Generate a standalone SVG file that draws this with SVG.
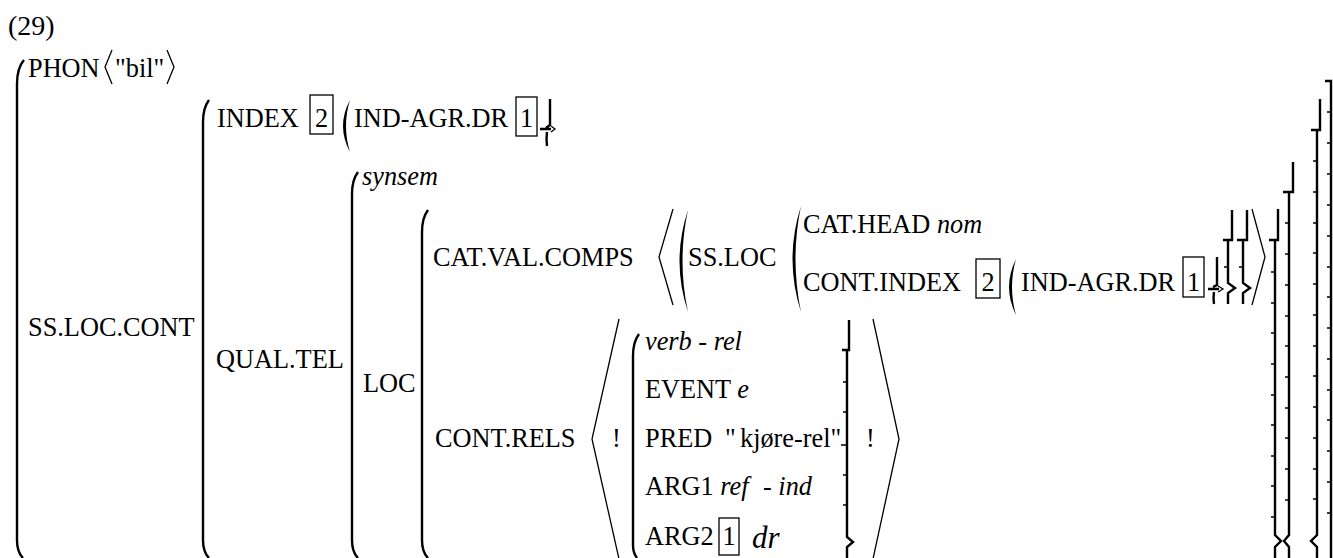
<svg xmlns="http://www.w3.org/2000/svg" width="1333" height="558" viewBox="0 0 1333 558">
<style>
text{font-family:"Liberation Serif","Times New Roman",serif;font-size:26.3px;fill:#000}
.i{font-style:italic}
.p{fill:none;stroke:#000;stroke-width:2.4}
.a{fill:none;stroke:#000;stroke-width:1.3}
.bx{fill:none;stroke:#000;stroke-width:1.3}
.f{fill:#000;stroke:none}
.t{fill:none;stroke:#000;stroke-width:1.4}
</style>
<rect width="1333" height="558" fill="#fff"/>
<text x="8" y="35" style="font-size:28px">(29)</text>
<g id="parens">
<path class="p" d="M24 60 Q17 68 17 84 V540 Q17 552 23 558"/>
<path class="p" d="M209 100 Q203 108 203 122 V540 Q203 552 209 558"/>
<path class="p" d="M358 172 Q352 180 352 194 V540 Q352 552 358 558"/>
<path class="p" d="M428 210 Q422 218 422 232 V540 Q422 552 428 558"/>
<path class="p" d="M639 334 Q633 342 633 356 V545 Q633 553 637 558"/>
<path class="f" d="M350 100 Q336 126 350 152 Q342 126 350 100Z"/>
<path class="f" d="M688 210 Q671 261 688 312 Q677 261 688 210Z"/>
<path class="f" d="M801 206 Q784 259 801 312 Q790 259 801 206Z"/>
<path class="f" d="M1016 259 Q1002 287 1016 315 Q1008 287 1016 259Z"/>
</g>
<g id="angles">
<path class="a" d="M112 50 L105 67 L112 84"/>
<path class="a" d="M167 50 L174 67 L167 84"/>
<path class="a" d="M673 209 L659 257 L673 305"/>
<path class="a" d="M1252 209 L1265 257 L1252 305"/>
<path class="a" d="M619 319 L592 439 L619 559"/>
<path class="a" d="M873 319 L899 439 L873 559"/>
</g>
<g id="closers">
<path class="p" d="M1325 81 H1331 V558"/>
<path class="t" d="M1327 112H1331M1327 143H1331M1327 174H1331M1327 205H1331M1327 236H1331M1327 267H1331M1327 297H1331M1327 328H1331M1327 359H1331M1327 390H1331M1327 420H1331M1327 451H1331M1327 482H1331M1327 513H1331"/>
<path class="p" d="M1320 99 V130 H1311 M1317 130 V535 L1311 541 L1317 547 V558"/>
<path class="t" d="M1313 161H1317M1313 192H1317M1313 223H1317M1313 253H1317M1313 284H1317M1313 315H1317M1313 346H1317M1313 376H1317M1313 407H1317M1313 438H1317M1313 469H1317M1313 499H1317"/>
<path class="p" d="M1293 162 V192 H1283 M1289 192 V535 L1284 541 L1289 547 V558"/>
<path class="t" d="M1285 223H1289M1285 254H1289M1285 285H1289M1285 316H1289M1285 346H1289M1285 377H1289M1285 408H1289M1285 438H1289M1285 469H1289M1285 500H1289"/>
<path class="p" d="M1278 209 V240 H1269 M1275 240 V535 L1281 541 L1275 547 V558"/>
<path class="t" d="M1271 272H1275M1271 303H1275M1271 333H1275M1271 364H1275M1271 395H1275M1271 425H1275M1271 456H1275M1271 486H1275M1271 517H1275"/>
<path class="p" d="M1232 210 V240 H1223 M1228 240 V283 L1235 288 L1228 293 V304"/>
<path class="p" d="M1247 210 V240 H1237 M1243 240 V283 L1250 288 L1243 293 V304"/>
<path class="t" d="M1224 267H1228M1239 267H1243"/>
<path class="p" d="M1217 257 V285 L1213 287 M1208 289 H1219 M1214 292 Q1213 298 1214 304"/>
<path class="a" d="M1218 286 L1223 289 L1218 292"/>
<path class="p" d="M550 99 V125 L546 128 M540 129 H551 M547 132 Q546 139 547 146"/>
<path class="a" d="M551 126 L555 129 L551 132"/>
<path class="p" d="M849 320 V350 H842 M847 350 V537 L853 542 L847 547 V558"/>
<path class="t" d="M843 382H847M843 412H847M841 445H847M843 475H847M843 505H847"/>
</g>
<g id="boxes">
<rect class="bx" x="310" y="95" width="23" height="39"/>
<rect class="bx" x="516" y="97" width="21" height="39"/>
<rect class="bx" x="976" y="259" width="24" height="39"/>
<rect class="bx" x="1183" y="257" width="21" height="40"/>
<rect class="bx" x="719" y="518" width="20" height="37"/>
</g>
<g id="labels">
<text x="28" y="77">PHON</text>
<text x="115" y="77">"bil"</text>
<text x="28" y="336">SS.LOC.CONT</text>
<text x="217" y="127">INDEX</text>
<text x="321.5" y="127" text-anchor="middle">2</text>
<text x="354" y="127">IND-AGR.DR</text>
<text x="526.5" y="127" text-anchor="middle">1</text>
<text x="216" y="368">QUAL.TEL</text>
<text x="362" y="185" class="i">synsem</text>
<text x="363" y="392">LOC</text>
<text x="433" y="266">CAT.VAL.COMPS</text>
<text x="688" y="266">SS.LOC</text>
<text x="803" y="233">CAT.HEAD <tspan class="i">nom</tspan></text>
<text x="803" y="291">CONT.INDEX</text>
<text x="988" y="291" text-anchor="middle">2</text>
<text x="1021" y="291">IND-AGR.DR</text>
<text x="1193.5" y="291" text-anchor="middle">1</text>
<text x="435" y="447">CONT.RELS</text>
<text x="612" y="447">!</text>
<text x="866" y="447">!</text>
<text x="645" y="350"><tspan class="i">verb</tspan> - <tspan class="i">rel</tspan></text>
<text x="645" y="398">EVENT <tspan class="i">e</tspan></text>
<text x="645" y="447">PRED</text>
<text x="725" y="447">"</text>
<text x="740" y="447">kjøre-rel"</text>
<text x="645" y="495">ARG1 <tspan class="i">ref</tspan></text>
<text x="763" y="495">- <tspan class="i">ind</tspan></text>
<text x="645" y="545">ARG2</text>
<text x="729" y="545" text-anchor="middle">1</text>
<text x="752" y="548" class="i" style="font-size:31px">dr</text>
</g>
</svg>
